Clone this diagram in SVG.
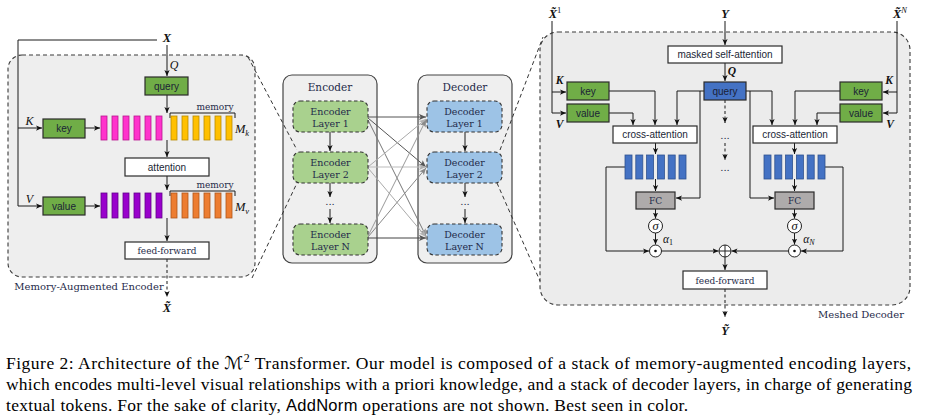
<svg xmlns="http://www.w3.org/2000/svg" width="928" height="419" viewBox="0 0 928 419">
<defs>
<style>
.bx{stroke:#2b2b2b;stroke-width:1.2}
.gr{fill:#70ad47}
.wh{fill:#ffffff}
.bl{fill:#4472c4}
.fcb{fill:#aeabab}
.ln{fill:none;stroke:#1a1a1a;stroke-width:1}
.dl{fill:none;stroke:#1a1a1a;stroke-width:1;stroke-dasharray:3 2.5}
.zl{fill:none;stroke:#333;stroke-width:1;stroke-dasharray:4 3}
.panel{stroke:#3a3a3a;stroke-width:1.1;stroke-dasharray:4 3}
.t{font-family:"Liberation Sans",Arial,sans-serif;font-size:10px;fill:#1a1f36;text-anchor:middle}
.s{font-family:"DejaVu Serif",serif;fill:#1f2b4a;text-anchor:middle}
.m{font-family:"Liberation Serif","Times New Roman",serif;font-style:italic;fill:#111;text-anchor:middle}
.mb{font-family:"Liberation Serif","Times New Roman",serif;font-style:italic;font-weight:bold;fill:#111;text-anchor:middle}
.cap{font-family:"Liberation Serif","Times New Roman",serif;font-size:17.5px;fill:#000}
.pk{fill:#ff33cc;stroke:#b8168f;stroke-width:0.8}
.yl{fill:#ffc000;stroke:#b88a00;stroke-width:0.8}
.pu{fill:#9900cc;stroke:#62008a;stroke-width:0.8}
.or{fill:#ed7d31;stroke:#b0561a;stroke-width:0.8}
.bb{fill:#4472c4;stroke:#2f528f;stroke-width:0.8}
.el{fill:#a9d18e;stroke:#333;stroke-width:1.1;stroke-dasharray:3.5 2.5}
.dlb{fill:#9dc3e6;stroke:#333;stroke-width:1.1;stroke-dasharray:3.5 2.5}
</style>
<marker id="ah" viewBox="0 0 8 8" refX="8" refY="4" markerWidth="6" markerHeight="6" markerUnits="userSpaceOnUse" orient="auto"><path d="M0,0.5 L8,4 L0,7.5 L2,4 z" fill="#111"/></marker>
<marker id="ahd" viewBox="0 0 8 8" refX="8" refY="4" markerWidth="7" markerHeight="7" markerUnits="userSpaceOnUse" orient="auto"><path d="M0,0.5 L8,4 L0,7.5 L2,4 z" fill="#555"/></marker>
<marker id="ahm" viewBox="0 0 8 8" refX="8" refY="4" markerWidth="7" markerHeight="7" markerUnits="userSpaceOnUse" orient="auto"><path d="M0,0.5 L8,4 L0,7.5 L2,4 z" fill="#888"/></marker>
<marker id="ahl" viewBox="0 0 8 8" refX="8" refY="4" markerWidth="7" markerHeight="7" markerUnits="userSpaceOnUse" orient="auto"><path d="M0,0.5 L8,4 L0,7.5 L2,4 z" fill="#b0b0b0"/></marker>
</defs>
<rect width="928" height="419" fill="#ffffff"/>

<!-- panels -->
<g id="encoder-panel">
<rect x="8" y="55" width="247" height="222" rx="14" fill="#eeeeee" class="panel"/>
<text class="s" x="89" y="290" font-size="10">Memory-Augmented Encoder</text>
</g>
<g id="decoder-panel">
<rect x="540" y="32" width="370" height="273" rx="18" fill="#ececec" class="panel"/>
<text class="s" x="861" y="318" font-size="10">Meshed Decoder</text>
</g>
<g id="stack-encoder">
<rect x="283" y="75" width="94" height="188" rx="9" fill="#efefef" stroke="#444" stroke-width="1.2"/>
<text class="s" x="330" y="91" font-size="10.5">Encoder</text>
</g>
<g id="stack-decoder">
<rect x="418" y="75" width="94" height="188" rx="9" fill="#efefef" stroke="#444" stroke-width="1.2"/>
<text class="s" x="465" y="91" font-size="10.5">Decoder</text>
</g>

<!-- connectors -->
<g id="connectors">
<line class="zl" x1="248" y1="57" x2="297" y2="150"/>
<line class="zl" x1="252" y1="278" x2="297" y2="183"/>
<line class="zl" x1="500" y1="150" x2="543" y2="37"/>
<line class="zl" x1="497" y1="183" x2="540" y2="281"/>
<polyline class="ln" points="157,40 18,40 18,206 42,206" marker-end="url(#ah)"/>
<line class="ln" x1="18" y1="128" x2="42" y2="128" marker-end="url(#ah)"/>
<line class="ln" x1="167" y1="45" x2="167" y2="76" marker-end="url(#ah)"/>
<line class="ln" x1="167" y1="95" x2="167" y2="113" marker-end="url(#ah)"/>
<line class="ln" x1="85" y1="128" x2="100" y2="128" marker-end="url(#ah)"/>
<line class="ln" x1="167" y1="140" x2="167" y2="157" marker-end="url(#ah)"/>
<line class="ln" x1="167" y1="176" x2="167" y2="190" marker-end="url(#ah)"/>
<line class="ln" x1="85" y1="206" x2="100" y2="206" marker-end="url(#ah)"/>
<line class="ln" x1="167" y1="218" x2="167" y2="241" marker-end="url(#ah)"/>
<line class="dl" x1="167" y1="259" x2="167" y2="297" marker-end="url(#ah)"/>
<path class="ln" d="M170,118 V113 H235 V118"/>
<path class="ln" d="M170,196 V191 H235 V196"/>
<line class="ln" x1="330" y1="132" x2="330" y2="151" marker-end="url(#ah)"/>
<line class="ln" x1="330" y1="183" x2="330" y2="197" marker-end="url(#ah)"/>
<line class="ln" x1="330" y1="209" x2="330" y2="223" marker-end="url(#ah)"/>
<line class="ln" x1="465" y1="132" x2="465" y2="151" marker-end="url(#ah)"/>
<line class="ln" x1="465" y1="183" x2="465" y2="197" marker-end="url(#ah)"/>
<line class="ln" x1="465" y1="209" x2="465" y2="223" marker-end="url(#ah)"/>
<line x1="368" y1="117" x2="426" y2="117" stroke="#555" stroke-width="1" marker-end="url(#ahd)"/>
<line x1="368" y1="118" x2="426" y2="167" stroke="#555" stroke-width="1" marker-end="url(#ahd)"/>
<line x1="368" y1="120" x2="426" y2="236" stroke="#777" stroke-width="1" marker-end="url(#ahm)"/>
<line x1="368" y1="167" x2="426" y2="119" stroke="#aaa" stroke-width="1" marker-end="url(#ahl)"/>
<line x1="368" y1="167" x2="426" y2="167" stroke="#bbb" stroke-width="1" marker-end="url(#ahl)"/>
<line x1="368" y1="168" x2="426" y2="237" stroke="#aaa" stroke-width="1" marker-end="url(#ahl)"/>
<line x1="368" y1="236" x2="426" y2="120" stroke="#999" stroke-width="1" marker-end="url(#ahm)"/>
<line x1="368" y1="237" x2="426" y2="168" stroke="#888" stroke-width="1" marker-end="url(#ahm)"/>
<line x1="368" y1="238" x2="426" y2="238" stroke="#444" stroke-width="1" marker-end="url(#ahd)"/>
<polyline class="ln" points="552,21 552,113 566,113" marker-end="url(#ah)"/>
<line class="ln" x1="552" y1="92" x2="566" y2="92" marker-end="url(#ah)"/>
<polyline class="ln" points="897,21 897,113 883,113" marker-end="url(#ah)"/>
<line class="ln" x1="897" y1="92" x2="883" y2="92" marker-end="url(#ah)"/>
<line class="ln" x1="725" y1="21" x2="725" y2="45" marker-end="url(#ah)"/>
<line class="ln" x1="725" y1="63" x2="725" y2="81" marker-end="url(#ah)"/>
<polyline class="ln" points="609,91 655,91 655,125" marker-end="url(#ah)"/>
<polyline class="ln" points="609,113 633,113 633,125" marker-end="url(#ah)"/>
<polyline class="ln" points="704,91 677,91 677,125" marker-end="url(#ah)"/>
<polyline class="ln" points="700,91 700,198 676,198" marker-end="url(#ah)"/>
<line class="ln" x1="655.5" y1="143" x2="655.5" y2="154" marker-end="url(#ah)"/>
<line class="ln" x1="655.5" y1="179" x2="655.5" y2="191" marker-end="url(#ah)"/>
<line class="ln" x1="655.5" y1="209" x2="655.5" y2="218.5" marker-end="url(#ah)"/>
<line class="ln" x1="655.5" y1="233" x2="655.5" y2="244.5" marker-end="url(#ah)"/>
<polyline class="ln" points="625,167 606,167 606,251 649,251" marker-end="url(#ah)"/>
<polyline class="ln" points="840,91 795,91 795,125" marker-end="url(#ah)"/>
<polyline class="ln" points="840,113 817,113 817,125" marker-end="url(#ah)"/>
<polyline class="ln" points="746,91 772,91 772,125" marker-end="url(#ah)"/>
<polyline class="ln" points="750,91 750,198 774,198" marker-end="url(#ah)"/>
<line class="ln" x1="794.5" y1="143" x2="794.5" y2="154" marker-end="url(#ah)"/>
<line class="ln" x1="794.5" y1="179" x2="794.5" y2="191" marker-end="url(#ah)"/>
<line class="ln" x1="794.5" y1="209" x2="794.5" y2="218.5" marker-end="url(#ah)"/>
<line class="ln" x1="794.5" y1="233" x2="794.5" y2="244.5" marker-end="url(#ah)"/>
<polyline class="ln" points="825,167 843,167 843,251 801,251" marker-end="url(#ah)"/>
<line class="ln" x1="661.5" y1="251" x2="718.5" y2="251" marker-end="url(#ah)"/>
<line class="ln" x1="788.5" y1="251" x2="731.5" y2="251" marker-end="url(#ah)"/>
<line class="ln" x1="725" y1="257" x2="725" y2="270" marker-end="url(#ah)"/>
<line class="dl" x1="725" y1="289" x2="725" y2="317" marker-end="url(#ah)"/>
<line class="dl" x1="725" y1="100" x2="725" y2="123" marker-end="url(#ah)"/>
<line class="dl" x1="725" y1="143" x2="725" y2="160" marker-end="url(#ah)"/>
</g>

<!-- encoder nodes -->
<g id="enc-labels">
<text class="mb" x="167" y="42" font-size="12.5">X</text>
<text class="m" x="174" y="69" font-size="12">Q</text>
<text class="m" x="29.5" y="125" font-size="12">K</text>
<text class="m" x="29.5" y="203" font-size="12">V</text>
<text class="mb" x="167" y="312" font-size="12.5">X̃</text>
</g>
<g id="enc-query"><rect x="145" y="77" width="43" height="18" class="bx gr"/><text class="t" x="166.5" y="89.5">query</text></g>
<g id="enc-key"><rect x="43" y="119" width="42" height="19" class="bx gr"/><text class="t" x="64" y="132">key</text></g>
<g id="enc-value"><rect x="43" y="197" width="42" height="18" class="bx gr"/><text class="t" x="64" y="209.5">value</text></g>
<g id="enc-keys-bars">
<rect x="101" y="116" width="6" height="24" class="pk"/><rect x="112" y="116" width="6" height="24" class="pk"/><rect x="123" y="116" width="6" height="24" class="pk"/><rect x="134" y="116" width="6" height="24" class="pk"/><rect x="145" y="116" width="6" height="24" class="pk"/><rect x="156" y="116" width="6" height="24" class="pk"/>
</g>
<g id="enc-mem-k">
<rect x="171" y="116" width="6" height="24" class="yl"/><rect x="182" y="116" width="6" height="24" class="yl"/><rect x="193" y="116" width="6" height="24" class="yl"/><rect x="204" y="116" width="6" height="24" class="yl"/><rect x="215" y="116" width="6" height="24" class="yl"/><rect x="226" y="116" width="6" height="24" class="yl"/>
<text class="s" x="215" y="110" font-size="9">memory</text>
<text class="m" x="242" y="133" font-size="12.5">M<tspan font-size="8.5" dy="2.5">k</tspan></text>
</g>
<g id="enc-attention"><rect x="125" y="158" width="84" height="18" class="bx wh"/><text class="t" x="167" y="170.5">attention</text></g>
<g id="enc-values-bars">
<rect x="101" y="193" width="6" height="25" class="pu"/><rect x="112" y="193" width="6" height="25" class="pu"/><rect x="123" y="193" width="6" height="25" class="pu"/><rect x="134" y="193" width="6" height="25" class="pu"/><rect x="145" y="193" width="6" height="25" class="pu"/><rect x="156" y="193" width="6" height="25" class="pu"/>
</g>
<g id="enc-mem-v">
<rect x="171" y="193" width="6" height="25" class="or"/><rect x="182" y="193" width="6" height="25" class="or"/><rect x="193" y="193" width="6" height="25" class="or"/><rect x="204" y="193" width="6" height="25" class="or"/><rect x="215" y="193" width="6" height="25" class="or"/><rect x="226" y="193" width="6" height="25" class="or"/>
<text class="s" x="215" y="188" font-size="9">memory</text>
<text class="m" x="242" y="211" font-size="12.5">M<tspan font-size="8.5" dy="2.5">v</tspan></text>
</g>
<g id="enc-ff"><rect x="125" y="242" width="84" height="17" class="bx wh"/><text class="s" x="167" y="254" font-size="9">feed-forward</text></g>

<!-- stack nodes -->
<g id="enc-layer-1"><rect x="293" y="101" width="75" height="31" rx="7" class="el"/><text class="s" x="330.5" y="115" font-size="9.5">Encoder</text><text class="s" x="330.5" y="127" font-size="9.5">Layer 1</text></g>
<g id="enc-layer-2"><rect x="293" y="152" width="75" height="31" rx="7" class="el"/><text class="s" x="330.5" y="166" font-size="9.5">Encoder</text><text class="s" x="330.5" y="178" font-size="9.5">Layer 2</text></g>
<text class="s" x="330" y="205" font-size="10">...</text>
<g id="enc-layer-n"><rect x="293" y="224" width="75" height="31" rx="7" class="el"/><text class="s" x="330.5" y="238" font-size="9.5">Encoder</text><text class="s" x="330.5" y="250" font-size="9.5">Layer N</text></g>
<g id="dec-layer-1"><rect x="427" y="101" width="75" height="31" rx="7" class="dlb"/><text class="s" x="464.5" y="115" font-size="9.5">Decoder</text><text class="s" x="464.5" y="127" font-size="9.5">Layer 1</text></g>
<g id="dec-layer-2"><rect x="427" y="152" width="75" height="31" rx="7" class="dlb"/><text class="s" x="464.5" y="166" font-size="9.5">Decoder</text><text class="s" x="464.5" y="178" font-size="9.5">Layer 2</text></g>
<text class="s" x="465" y="205" font-size="10">...</text>
<g id="dec-layer-n"><rect x="427" y="224" width="75" height="31" rx="7" class="dlb"/><text class="s" x="464.5" y="238" font-size="9.5">Decoder</text><text class="s" x="464.5" y="250" font-size="9.5">Layer N</text></g>

<!-- decoder nodes -->
<g id="dec-labels">
<text class="mb" x="555" y="18" font-size="12.5">X̃<tspan font-size="8.5" font-weight="normal" font-style="normal" dy="-5">1</tspan></text>
<text class="mb" x="900" y="18" font-size="12.5">X̃<tspan font-size="8.5" font-weight="normal" dy="-5">N</tspan></text>
<text class="mb" x="725" y="18" font-size="12.5">Y</text>
<text class="mb" x="732" y="75" font-size="11.5">Q</text>
<text class="mb" x="559.5" y="84" font-size="11.5">K</text>
<text class="mb" x="559.5" y="128" font-size="11.5">V</text>
<text class="mb" x="889" y="84" font-size="11.5">K</text>
<text class="mb" x="890" y="128" font-size="11.5">V</text>
<text class="mb" x="725" y="335" font-size="12.5">Ỹ</text>
<text class="s" x="725" y="139" font-size="10">...</text>
<text class="s" x="725" y="171" font-size="10">...</text>
</g>
<g id="dec-masked-sa"><rect x="668" y="46" width="114" height="17" class="bx wh"/><text class="t" x="725" y="58">masked self-attention</text></g>
<g id="dec-query"><rect x="704" y="82" width="42" height="18" class="bx bl"/><text class="t" x="725" y="94.5">query</text></g>
<g id="dec-key-1"><rect x="567" y="82" width="42" height="18" class="bx gr"/><text class="t" x="588" y="94.5">key</text></g>
<g id="dec-value-1"><rect x="567" y="104" width="42" height="18" class="bx gr"/><text class="t" x="588" y="116.5">value</text></g>
<g id="dec-key-n"><rect x="840" y="82" width="42" height="18" class="bx gr"/><text class="t" x="861" y="94.5">key</text></g>
<g id="dec-value-n"><rect x="840" y="104" width="42" height="18" class="bx gr"/><text class="t" x="861" y="116.5">value</text></g>
<g id="dec-cross-1"><rect x="613" y="126" width="84" height="17" class="bx wh"/><text class="t" x="655" y="138">cross-attention</text></g>
<g id="dec-cross-n"><rect x="753" y="126" width="84" height="17" class="bx wh"/><text class="t" x="795" y="138">cross-attention</text></g>
<g id="dec-bars-1">
<rect x="625" y="155" width="7" height="24" class="bb"/><rect x="635.8" y="155" width="7" height="24" class="bb"/><rect x="646.6" y="155" width="7" height="24" class="bb"/><rect x="657.4" y="155" width="7" height="24" class="bb"/><rect x="668.2" y="155" width="7" height="24" class="bb"/><rect x="679" y="155" width="7" height="24" class="bb"/>
</g>
<g id="dec-bars-n">
<rect x="764" y="155" width="7" height="24" class="bb"/><rect x="774.8" y="155" width="7" height="24" class="bb"/><rect x="785.6" y="155" width="7" height="24" class="bb"/><rect x="796.4" y="155" width="7" height="24" class="bb"/><rect x="807.2" y="155" width="7" height="24" class="bb"/><rect x="818" y="155" width="7" height="24" class="bb"/>
</g>
<g id="dec-fc-1"><rect x="636" y="192" width="39" height="17" class="bx fcb"/><text class="s" x="655.5" y="204" font-size="9">FC</text></g>
<g id="dec-fc-n"><rect x="775" y="192" width="39" height="17" class="bx fcb"/><text class="s" x="794.5" y="204" font-size="9">FC</text></g>
<g id="dec-sigma-1"><circle cx="655.5" cy="226" r="7" fill="#fff" stroke="#222" stroke-width="1"/><text class="m" x="655.5" y="230" font-size="12.5">σ</text></g>
<g id="dec-sigma-n"><circle cx="794.5" cy="226" r="7" fill="#fff" stroke="#222" stroke-width="1"/><text class="m" x="794.5" y="230" font-size="12.5">σ</text></g>
<text class="m" x="668" y="243" font-size="11.5">α<tspan font-size="8" font-style="normal" dy="2">1</tspan></text>
<text class="m" x="809" y="243" font-size="11.5">α<tspan font-size="8" dy="2">N</tspan></text>
<g id="dec-dot-1"><circle cx="655.5" cy="251" r="6" fill="#fff" stroke="#222" stroke-width="1"/><circle cx="655.5" cy="251" r="1.3" fill="#111"/></g>
<g id="dec-dot-n"><circle cx="794.5" cy="251" r="6" fill="#fff" stroke="#222" stroke-width="1"/><circle cx="794.5" cy="251" r="1.3" fill="#111"/></g>
<g id="dec-sum"><circle cx="725" cy="251" r="6" fill="#fff" stroke="#222" stroke-width="1"/><path d="M719,251 H731 M725,245 V257" stroke="#222" stroke-width="1"/></g>
<g id="dec-ff"><rect x="683" y="271" width="84" height="18" class="bx wh"/><text class="s" x="725" y="283.5" font-size="9">feed-forward</text></g>

<!-- caption -->
<g id="caption">
<text class="cap" x="6" y="369" textLength="905" lengthAdjust="spacing">Figure 2: Architecture of the <tspan font-family="DejaVu Serif,DejaVu Sans,serif" font-style="italic">ℳ</tspan><tspan font-size="12" dy="-7">2</tspan><tspan dy="7"> Transformer. Our model is composed of a stack of memory-augmented encoding layers,</tspan></text>
<text class="cap" x="6" y="390" textLength="906" lengthAdjust="spacing">which encodes multi-level visual relationships with a priori knowledge, and a stack of decoder layers, in charge of generating</text>
<text class="cap" x="6" y="411" textLength="682" lengthAdjust="spacing">textual tokens. For the sake of clarity, <tspan font-family="Liberation Sans,Arial,sans-serif" font-size="16.5">AddNorm</tspan> operations are not shown. Best seen in color.</text>
</g>
</svg>
